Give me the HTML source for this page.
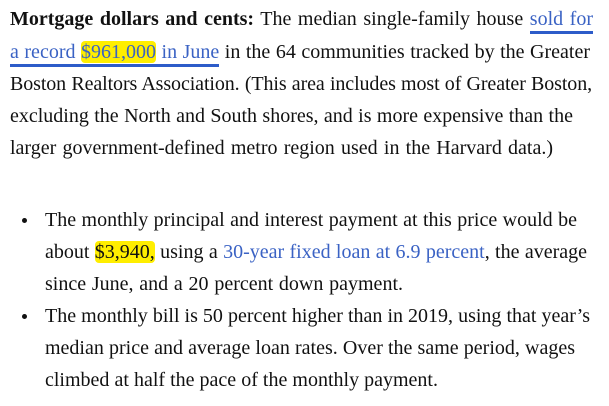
<!DOCTYPE html>
<html><head><meta charset="utf-8"><style>
body{margin:0;width:609px;height:406px;background:#fff;overflow:hidden;font-family:"Liberation Serif","DejaVu Serif",serif;color:#111;}
.l{position:absolute;font-size:20px;letter-spacing:0px;line-height:24px;white-space:nowrap;text-align:justify;text-align-last:justify;}
a{color:#3a62c4;text-decoration:none;}
.u{border-bottom:3px solid #2d5cc9;padding-bottom:1px;}
.hl{background:#ffee00;border-radius:4px;}
.dot{position:absolute;width:5px;height:5px;border-radius:50%;background:#111;}
</style></head><body>
<div>
<div class="l" style="left:10px;top:7px;width:583px"><b>Mortgage dollars and cents:</b> The median single-family house <a class="u" href="#">sold for</a></div>
<div class="l" style="left:10px;top:40px;width:580px"><a class="u" href="#">a record <span class="hl">$961,000</span> in June</a> in the 64 communities tracked by the Greater</div>
<div class="l" style="left:10px;top:72px;width:582px;letter-spacing:-0.1px">Boston Realtors Association. (This area includes most of Greater Boston,</div>
<div class="l" style="left:10px;top:104px;width:563px">excluding the North and South shores, and is more expensive than the</div>
<div class="l" style="left:10px;top:136px;width:543px">larger government-defined metro region used in the Harvard data.)</div>
</div>
<div>
<div class="dot" style="left:22px;top:218px"></div>
<div class="l" style="left:45px;top:208px;width:532px">The monthly principal and interest payment at this price would be</div>
<div class="l" style="left:45px;top:240px;width:542px">about <span class="hl">$3,940,</span> using a <a href="#">30-year fixed loan at 6.9 percent</a>, the average</div>
<div class="l" style="left:45px;top:272px;width:358px">since June, and a 20 percent down payment.</div>
<div class="dot" style="left:22px;top:314px"></div>
<div class="l" style="left:45px;top:304px;width:545px">The monthly bill is 50 percent higher than in 2019, using that year’s</div>
<div class="l" style="left:45px;top:336px;width:530px">median price and average loan rates. Over the same period, wages</div>
<div class="l" style="left:45px;top:368px;width:393px">climbed at half the pace of the monthly payment.</div>
</div>
</body></html>
